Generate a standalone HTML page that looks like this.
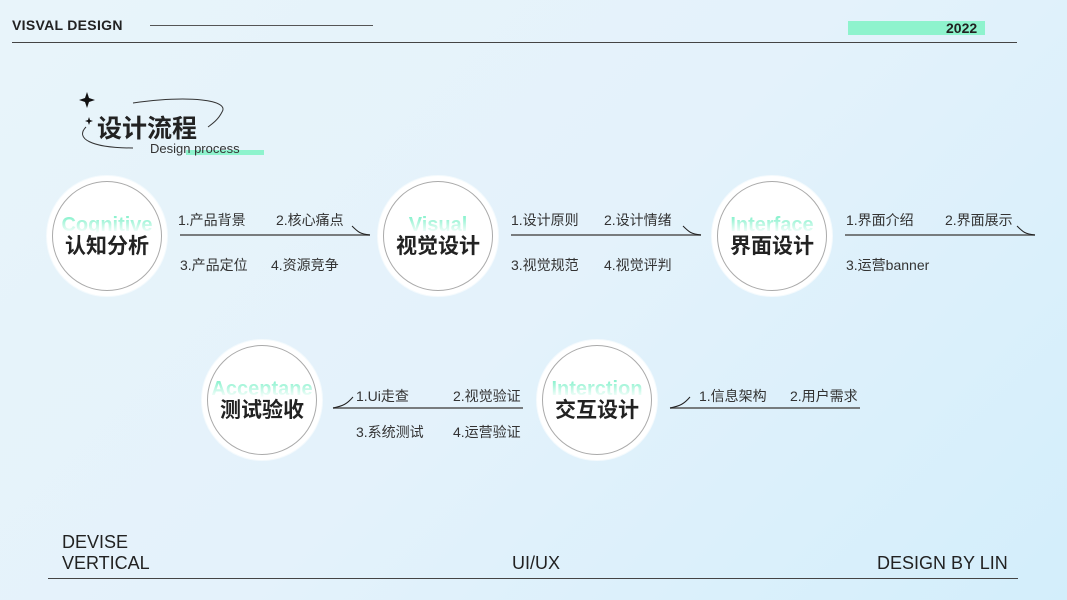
<!DOCTYPE html>
<html><head><meta charset="utf-8"><style>
*{margin:0;padding:0;box-sizing:border-box}
body{width:1067px;height:600px;overflow:hidden;position:relative;font-family:"Liberation Sans","Noto Sans CJK SC",sans-serif;color:#333;background:linear-gradient(135deg,#e8f4fa 0%,#e4f2fb 50%,#d3eefb 100%)}
.a{position:absolute;white-space:nowrap}
.c{position:absolute;width:120px;height:120px;border-radius:50%;background:#fff;box-shadow:0 0 0 1px #f4fafd}
.c .i{position:absolute;left:5px;top:5px;width:110px;height:110px;border-radius:50%;border:1px solid #aaa;background:#fff}
.c .en{position:absolute;left:0;width:120px;top:38px;text-align:center;font-weight:bold;font-size:20px;background:linear-gradient(#8df2cf 15%,#fff 85%);-webkit-background-clip:text;background-clip:text;color:transparent;overflow:hidden}
.c .zh{position:absolute;left:0;width:120px;top:54px;text-align:center;font-size:21px;font-weight:600;color:#222}
.t{font-size:14px;color:#333}
.f{font-size:18px;color:#222}
</style></head><body>
<div class="a" style="left:12px;top:17px;font-size:14px;font-weight:bold;color:#222;letter-spacing:.3px">VISVAL DESIGN</div>
<div class="a" style="left:150px;top:25px;width:223px;height:1px;background:#555"></div>
<div class="a" style="left:12px;top:42px;width:1005px;height:1px;background:#444"></div>
<div class="a" style="left:848px;top:21px;width:137px;height:14px;background:#8ef3cd"></div>
<div class="a" style="left:946px;top:20px;font-size:14px;font-weight:bold;color:#222">2022</div>

<svg class="a" style="left:0;top:0" width="1067" height="600">
<path d="M87 92 L89 98 L95 100 L89 102 L87 108 L85 102 L79 100 L85 98Z" fill="#111"/>
<path d="M89 117 L90 120 L93 121 L90 122 L89 125 L88 122 L85 121 L88 120Z" fill="#111"/>
<path d="M133 148 C90 148 75 138 86 127" stroke="#333" stroke-width="1" fill="none"/>
<path d="M133 103 C190 95 230 100 222 112 C218 120 212 124 208 127" stroke="#333" stroke-width="1" fill="none"/>
<path d="M180 235 L370 235" stroke="#555" stroke-width="1.5"/>
<path d="M352 226 C358 232 360 234 370 235" stroke="#222" stroke-width="1" fill="none"/>
<path d="M511 235 L701 235" stroke="#555" stroke-width="1.5"/>
<path d="M683 226 C689 232 691 234 701 235" stroke="#222" stroke-width="1" fill="none"/>
<path d="M845 235 L1035 235" stroke="#555" stroke-width="1.5"/>
<path d="M1017 226 C1023 232 1025 234 1035 235" stroke="#222" stroke-width="1" fill="none"/>
<path d="M333 408 L523 408" stroke="#555" stroke-width="1.5"/>
<path d="M353 397 C347 404 343 406 333 408" stroke="#222" stroke-width="1" fill="none"/>
<path d="M670 408 L860 408" stroke="#555" stroke-width="1.5"/>
<path d="M690 397 C684 404 680 406 670 408" stroke="#222" stroke-width="1" fill="none"/>
</svg>
<div class="a" style="left:97px;top:109px;font-size:25px;font-weight:bold;color:#222">设计流程</div>
<div class="a" style="left:186px;top:150px;width:78px;height:5px;background:#8ef3cd"></div>
<div class="a" style="left:150px;top:141px;font-size:13px;color:#333">Design process</div>

<div class="c" style="left:47px;top:176px"><div class="i"></div><div class="en">Cognitive</div><div class="zh">认知分析</div></div>
<div class="c" style="left:378px;top:176px"><div class="i"></div><div class="en">Visual</div><div class="zh">视觉设计</div></div>
<div class="c" style="left:712px;top:176px"><div class="i"></div><div class="en">Interface</div><div class="zh">界面设计</div></div>
<div class="c" style="left:202px;top:340px"><div class="i"></div><div class="en">Acceptane</div><div class="zh">测试验收</div></div>
<div class="c" style="left:537px;top:340px"><div class="i"></div><div class="en">Interction</div><div class="zh">交互设计</div></div>

<div class="a t" style="left:178px;top:210px">1.产品背景</div>
<div class="a t" style="left:276px;top:210px">2.核心痛点</div>
<div class="a t" style="left:180px;top:255px">3.产品定位</div>
<div class="a t" style="left:271px;top:255px">4.资源竞争</div>
<div class="a t" style="left:511px;top:210px">1.设计原则</div>
<div class="a t" style="left:604px;top:210px">2.设计情绪</div>
<div class="a t" style="left:511px;top:255px">3.视觉规范</div>
<div class="a t" style="left:604px;top:255px">4.视觉评判</div>
<div class="a t" style="left:846px;top:210px">1.界面介绍</div>
<div class="a t" style="left:945px;top:210px">2.界面展示</div>
<div class="a t" style="left:846px;top:255px">3.运营banner</div>
<div class="a t" style="left:356px;top:386px">1.Ui走查</div>
<div class="a t" style="left:453px;top:386px">2.视觉验证</div>
<div class="a t" style="left:356px;top:422px">3.系统测试</div>
<div class="a t" style="left:453px;top:422px">4.运营验证</div>
<div class="a t" style="left:699px;top:386px">1.信息架构</div>
<div class="a t" style="left:790px;top:386px">2.用户需求</div>

<div class="a f" style="left:62px;top:532px">DEVISE</div>
<div class="a f" style="left:62px;top:553px">VERTICAL</div>
<div class="a f" style="left:512px;top:553px">UI/UX</div>
<div class="a f" style="left:877px;top:553px">DESIGN BY LIN</div>
<div class="a" style="left:48px;top:578px;width:970px;height:1px;background:#444"></div>
</body></html>
